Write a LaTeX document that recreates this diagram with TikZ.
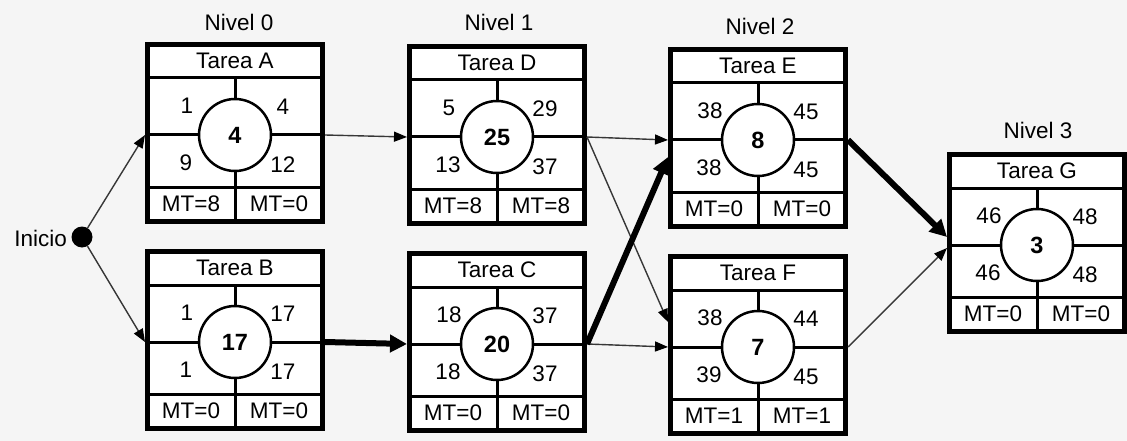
\documentclass[tikz,border=0pt]{standalone}
\usepackage{fontspec}
\setmainfont{Liberation Sans}
\usetikzlibrary{arrows.meta}
\definecolor{bg}{RGB}{245,245,245}
\definecolor{thinline}{RGB}{55,55,55}
\tikzset{
  taskframe/.style={draw=black,line width=5pt,minimum width=175pt,minimum height=177pt,inner sep=0pt,fill=white},
  divline/.style={line width=3pt,draw=black},
  ring/.style={line width=2.5pt,draw=black,fill=white},
  txt/.style={font=\fontsize{22.5}{22.5}\selectfont,inner sep=0pt,text=black},
  bigtxt/.style={font=\fontsize{23.5}{23.5}\selectfont\bfseries,inner sep=0pt,text=black},
  thinarrow/.style={draw=thinline,line width=1.4pt,-{Triangle[length=13pt,width=10pt,color=black]}},
  thickarrow/.style={draw=black,line width=6pt,-{Triangle[length=17pt,width=17pt]}},
}
\def\parsenums#1,#2,#3,#4\relax{%
  \node[txt] (\curname-tl) at (-48,-29) {#1};
  \node[txt] (\curname-tr) at (48,-28) {#2};
  \node[txt] (\curname-bl) at (-49,28) {#3};
  \node[txt] (\curname-br) at (48,30) {#4};}
% #1 name, #2 cx, #3 cy, #4 title, #5 numbers, #6 centre, #7 MT left, #8 MT right
\newcommand\taskbox[8]{%
  \def\curname{#1}%
  \begin{scope}[shift={(#2,#3)}]
    \node[taskframe] (#1) at (0,-2) {};
    \coordinate (#1-w) at (-90,0);
    \coordinate (#1-e) at (90,0);
    \draw[divline] (-88,-57) -- (88,-57);
    \draw[divline] (-88,52) -- (88,52);
    \draw[divline] (-88,0) -- (88,0);
    \draw[divline] (0,-57) -- (0,88);
    \draw[ring] (0,0) circle[radius=36];
    \node[txt] (#1-title) at (0,-74) {#4};
    \parsenums#5\relax
    \node[bigtxt] (#1-c) at (0,0) {#6};
    \node[txt] (#1-mtl) at (-44,69) {#7};
    \node[txt] (#1-mtr) at (44,69) {#8};
  \end{scope}}
\begin{document}
\begin{tikzpicture}[x=1pt,y=-1pt]
  \fill[bg] (0,0) rectangle (1127,441);
  \useasboundingbox (0,0) rectangle (1127,441);

  \taskbox{A}{235}{135}{Tarea A}{1,4,9,12}{4}{MT=8}{MT=0}
  \taskbox{B}{235}{342}{Tarea B}{1,17,1,17}{17}{MT=0}{MT=0}
  \taskbox{D}{497}{137}{Tarea D}{5,29,13,37}{25}{MT=8}{MT=8}
  \taskbox{C}{497}{344}{Tarea C}{18,37,18,37}{20}{MT=0}{MT=0}
  \taskbox{E}{758}{140}{Tarea E}{38,45,38,45}{8}{MT=0}{MT=0}
  \taskbox{F}{758}{347}{Tarea F}{38,44,39,45}{7}{MT=1}{MT=1}
  \taskbox{G}{1037}{245}{Tarea G}{46,48,46,48}{3}{MT=0}{MT=0}

  \node[txt] (n0) at (239,22) {Nivel 0};
  \node[txt] (n1) at (499,22) {Nivel 1};
  \node[txt] (n2) at (760,26) {Nivel 2};
  \node[txt] (n3) at (1038,130) {Nivel 3};

  \node[circle,fill=black,minimum size=21pt,inner sep=0pt] (ini) at (82,237) {};
  \node[txt,anchor=east] (inilbl) at (67,238) {Inicio};

  \draw[thinarrow] (ini) -- (A-w);
  \draw[thinarrow] (ini) -- (B-w);
  \draw[thinarrow] (A-e) -- (D-w);
  \draw[thinarrow] (D-e) -- (E-w);
  \draw[thinarrow] (D-e) -- ([yshift=25pt]F-w);
  \draw[thinarrow] (C-e) -- (F-w);
  \draw[thinarrow] (F-e) -- ([yshift=-3pt]G-w);
  \draw[thickarrow] (B-e) -- (C-w);
  \draw[thickarrow] (C-e) -- ([yshift=-17pt]E-w);
  \draw[thickarrow] (E-e) -- ([yshift=8pt]G-w);
\end{tikzpicture}
\end{document}
